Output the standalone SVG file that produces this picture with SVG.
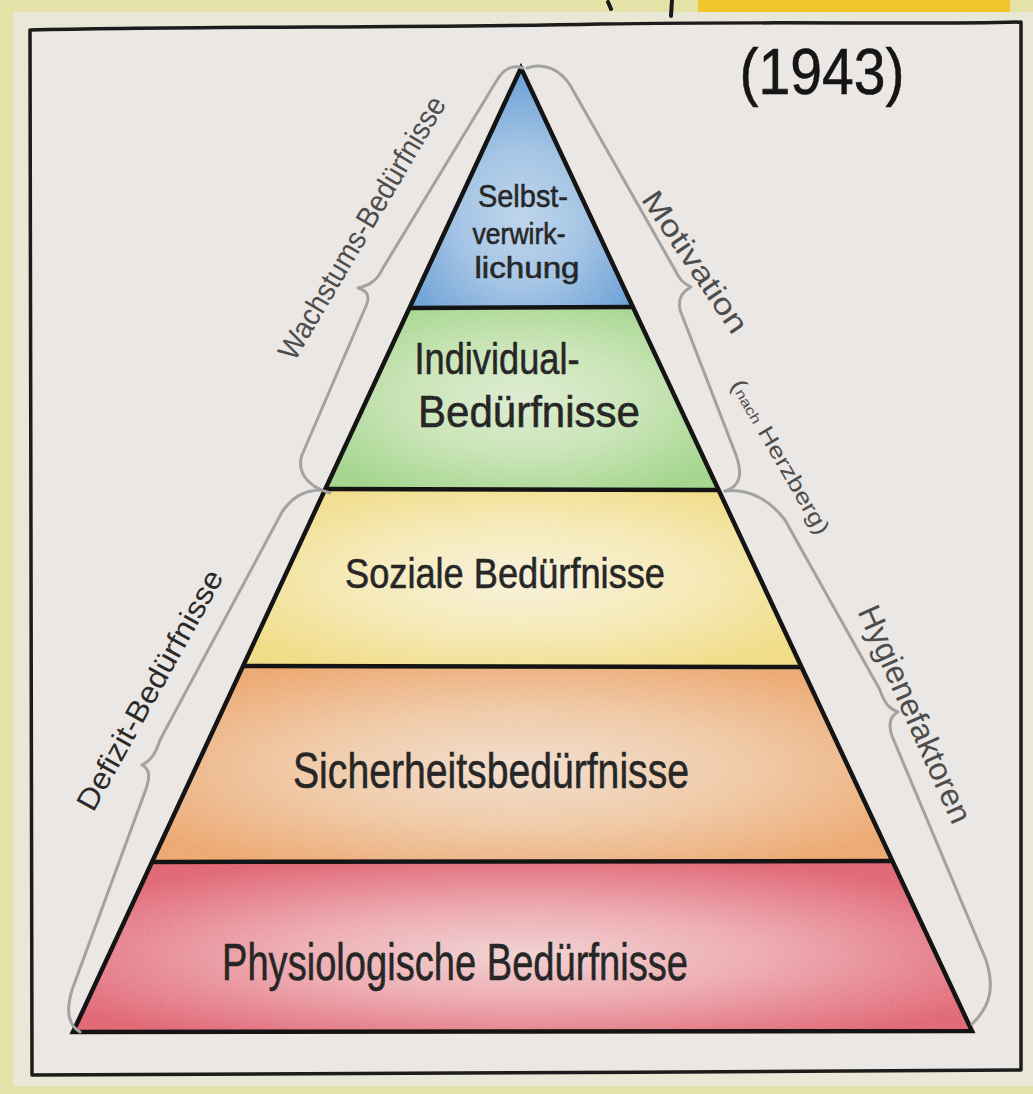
<svg xmlns="http://www.w3.org/2000/svg" width="1033" height="1094" viewBox="0 0 1033 1094">
<style>
.edge{fill:none;stroke:#141414;stroke-width:4.5;stroke-linejoin:miter;stroke-linecap:round}
.brace{fill:none;stroke:#a2a2a2;stroke-width:3;stroke-linecap:round;stroke-linejoin:round}
.lbl{font-family:"Liberation Sans","DejaVu Sans",sans-serif;fill:#151515;text-anchor:middle;stroke:#151515;stroke-width:0.6}
.side{font-family:"Liberation Sans","DejaVu Sans",sans-serif;fill:#4d4d4d;text-anchor:middle}
</style>
<defs>
<radialGradient id="gBlue" cx="0.5" cy="0.62" r="0.62"><stop offset="0" stop-color="#b9d2ea"/><stop offset="0.45" stop-color="#9fc1e3"/><stop offset="1" stop-color="#5f98d2"/></radialGradient>
<radialGradient id="gGreen" cx="0.5" cy="0.5" r="0.6"><stop offset="0" stop-color="#dbebcf"/><stop offset="0.5" stop-color="#c6e3b2"/><stop offset="1" stop-color="#9ed287"/></radialGradient>
<radialGradient id="gYellow" cx="0.5" cy="0.5" r="0.6"><stop offset="0" stop-color="#f6f0d8"/><stop offset="0.5" stop-color="#f5e9b4"/><stop offset="1" stop-color="#f0da80"/></radialGradient>
<radialGradient id="gOrange" cx="0.5" cy="0.52" r="0.6"><stop offset="0" stop-color="#f1dccb"/><stop offset="0.5" stop-color="#efc7a2"/><stop offset="1" stop-color="#eba46a"/></radialGradient>
<radialGradient id="gRed" cx="0.5" cy="0.55" r="0.6"><stop offset="0" stop-color="#f0d0d0"/><stop offset="0.45" stop-color="#eca6ad"/><stop offset="1" stop-color="#df5f6e"/></radialGradient>
<filter id="grain" x="0" y="0" width="100%" height="100%">
<feTurbulence type="fractalNoise" baseFrequency="0.85" numOctaves="2" seed="3" result="n"/>
<feColorMatrix in="n" type="matrix" values="0 0 0 0 1  0 0 0 0 1  0 0 0 0 1  0 0 0 0.35 -0.05" result="w"/>
<feComposite in="w" in2="SourceGraphic" operator="in"/>
</filter>
</defs>

<!-- background -->
<rect x="0" y="0" width="1033" height="1094" fill="#e4e2a6"/>
<rect x="13" y="12" width="1020" height="1074" fill="#e9e7d6"/>
<rect x="698" y="0" width="312" height="12" fill="#f0c62a"/>
<path d="M608,2 L611,9 M672,0 L671,16" stroke="#1a1a1a" stroke-width="4" fill="none" stroke-linecap="round"/>
<path d="M30,30 C200,26 420,28 600,24 C800,21 920,25 1021,22 L1021,1070 C700,1072 300,1074 32,1075 Z" fill="#ebe7e4" stroke="#1c1c1c" stroke-width="3.5" stroke-linejoin="round"/>

<!-- pyramid layers -->
<g id="layer-selbstverwirklichung">
<polygon points="521,70 632,308 411,308" fill="url(#gBlue)"/>
<text class="lbl" x="523" y="207" font-size="32" textLength="90" lengthAdjust="spacingAndGlyphs">Selbst-</text>
<text class="lbl" x="519" y="244" font-size="29" textLength="93" lengthAdjust="spacingAndGlyphs">verwirk-</text>
<text class="lbl" x="527" y="278" font-size="29" textLength="105" lengthAdjust="spacingAndGlyphs">lichung</text>
</g>
<g id="layer-individual">
<polygon points="411,308 632,308 717,490 327,490" fill="url(#gGreen)"/>
<text class="lbl" x="497" y="374" font-size="44" textLength="165" lengthAdjust="spacingAndGlyphs">Individual-</text>
<text class="lbl" x="529" y="427" font-size="44" textLength="222" lengthAdjust="spacingAndGlyphs">Bedürfnisse</text>
</g>
<g id="layer-sozial">
<polygon points="327,490 717,490 800,667 244,667" fill="url(#gYellow)"/>
<text class="lbl" x="505" y="588" font-size="42" textLength="320" lengthAdjust="spacingAndGlyphs">Soziale Bedürfnisse</text>
</g>
<g id="layer-sicherheit">
<polygon points="244,667 800,667 891,862 154,862" fill="url(#gOrange)"/>
<text class="lbl" x="491" y="788" font-size="50" textLength="396" lengthAdjust="spacingAndGlyphs">Sicherheitsbedürfnisse</text>
</g>
<g id="layer-physiologisch">
<polygon points="154,862 891,862 970,1030 75,1030" fill="url(#gRed)"/>
<text class="lbl" x="455" y="980" font-size="52" textLength="466" lengthAdjust="spacingAndGlyphs">Physiologische Bedürfnisse</text>
</g>
<polygon points="521,70 970,1030 75,1030" fill="#ffffff" filter="url(#grain)" opacity="0.6"/>

<!-- connectors: outlines and braces -->
<g id="connectors">
<path class="edge" d="M73,1032 L521,68 L972,1031 Z"/>
<path class="edge" d="M411,308 L632,307"/>
<path class="edge" d="M327,489 L717,490"/>
<path class="edge" d="M244,666 L800,667"/>
<path class="edge" d="M154,862 L891,861"/>
<path class="brace" d="M523,68 C512,64 503,70 497,80 L383,268 C378,279 371,285 358,288 C368,291 370,297 366,306 L302,455 C297,470 305,486 330,493"/>
<path class="brace" d="M322,490 C302,490 291,499 282,512 L160,740 C156,752 152,760 142,765 C150,769 150,777 146,789 L72,990 C66,1010 68,1025 80,1032"/>
<path class="brace" d="M527,68 C545,62 560,70 570,85 L675,270 C680,280 683,283 691,287 C682,292 678,298 680,310 L736,455 C742,472 742,486 725,491"/>
<path class="brace" d="M725,491 C748,488 770,500 785,520 L880,690 C884,702 888,708 898,712 C890,716 888,724 892,736 L986,960 C994,985 992,1005 972,1024"/>
</g>

<!-- side labels -->
<g id="label-wachstum"><text class="side" transform="translate(362,228) rotate(-59.5)" y="10" font-size="30" textLength="300" lengthAdjust="spacingAndGlyphs">Wachstums-Bedürfnisse</text></g>
<g id="label-defizit"><text class="side" style="fill:#2a2a2a" transform="translate(150,690) rotate(-61)" y="10" font-size="30" textLength="270" lengthAdjust="spacingAndGlyphs">Defizit-Bedürfnisse</text></g>
<g id="label-motivation"><text class="side" transform="translate(695,262) rotate(56)" y="10" font-size="30" textLength="165" lengthAdjust="spacingAndGlyphs">Motivation</text></g>
<g id="label-herzberg"><text class="side" transform="translate(780,457) rotate(60)" y="7" font-size="22" textLength="175" lengthAdjust="spacingAndGlyphs">(<tspan font-size="14">nach</tspan> Herzberg)</text></g>
<g id="label-hygiene"><text class="side" transform="translate(915,714) rotate(66)" y="11" font-size="32" textLength="235" lengthAdjust="spacingAndGlyphs">Hygienefaktoren</text></g>
<g id="label-year"><text class="lbl" x="822" y="94" font-size="64" textLength="165" lengthAdjust="spacingAndGlyphs">(1943)</text></g>
</svg>
